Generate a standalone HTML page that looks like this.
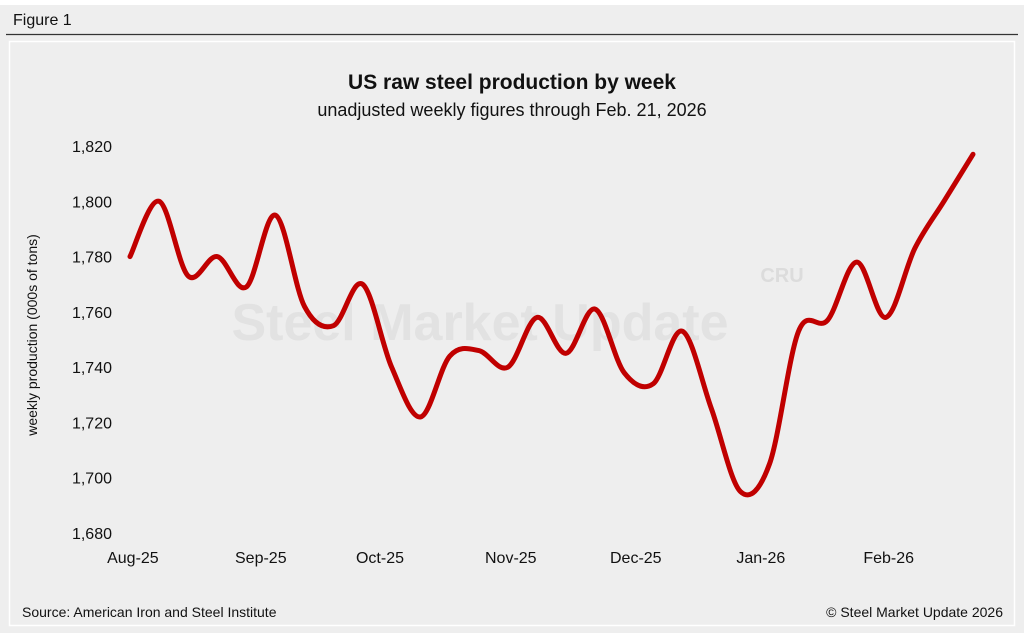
<!DOCTYPE html>
<html><head><meta charset="utf-8"><style>
body{margin:0;width:1024px;height:633px;background:#fff;font-family:"Liberation Sans",Arial,sans-serif;overflow:hidden}
#bg{position:absolute;left:0;top:5px;width:1024px;height:628px;background:#eeeeee}
</style></head><body>
<div id="bg"></div>
<svg width="1024" height="633" style="position:absolute;left:0;top:0">
<text x="13" y="25" font-size="16" fill="#111">Figure 1</text>
<line x1="6" y1="34.5" x2="1018" y2="34.5" stroke="#333" stroke-width="1.2"/>
<rect x="9.5" y="41.5" width="1005" height="584" fill="none" stroke="#fff" stroke-width="1.5"/>
<text x="512" y="89" text-anchor="middle" font-size="21" font-weight="bold" fill="#111">US raw steel production by week</text>
<text x="512" y="116" text-anchor="middle" font-size="18" fill="#111">unadjusted weekly figures through Feb. 21, 2026</text>
<text x="480" y="340" text-anchor="middle" font-size="52" font-weight="bold" fill="#e2e2e2">Steel Market Update</text>
<text x="782" y="282" text-anchor="middle" font-size="20" font-weight="bold" fill="#dcdcdc">CRU</text>
<text transform="translate(37,335) rotate(-90)" text-anchor="middle" font-size="14" fill="#111">weekly production (000s of tons)</text>
<g id="yt"></g><g id="xt"></g>
<path id="line" fill="none" stroke="#c00000" stroke-width="5" stroke-linecap="round"/>
<text x="22" y="617" font-size="14" fill="#111">Source: American Iron and Steel Institute</text>
<text x="1003" y="617" text-anchor="end" font-size="14" fill="#111">© Steel Market Update 2026</text>
</svg>
<script>
const values=[1780,1800,1773,1780,1769,1795,1762,1755,1770,1740,1722,1744,1746,1740,1758,1745,1761,1738,1734,1753,1725,1695,1705,1753,1757,1778,1758,1783,1800,1817];
const yTicks=[1680,1700,1720,1740,1760,1780,1800,1820];
const yTickLabels=["1,680","1,700","1,720","1,740","1,760","1,780","1,800","1,820"];
const xLabels=["Aug-25","Sep-25","Oct-25","Nov-25","Dec-25","Jan-26","Feb-26"];
const xLabelIdx=[0.1,4.5,8.6,13.1,17.4,21.7,26.1];
const ns="http://www.w3.org/2000/svg";
const y=v=>533-(v-1680)*(387/140);
const x=i=>130+i*(843/29);
const yt=document.getElementById('yt');
yTicks.forEach((t,k)=>{const e=document.createElementNS(ns,'text');


e.setAttribute('x',112);e.setAttribute('y',y(t)+6);e.setAttribute('text-anchor','end');e.setAttribute('font-size','16');e.setAttribute('fill','#111');e.textContent=yTickLabels[k];yt.appendChild(e);});
const xt=document.getElementById('xt');
xLabels.forEach((l,k)=>{const e=document.createElementNS(ns,'text');


e.setAttribute('x',x(xLabelIdx[k]));e.setAttribute('y',563);e.setAttribute('text-anchor','middle');e.setAttribute('font-size','16');e.setAttribute('fill','#111');e.textContent=l;xt.appendChild(e);});
const p=values.map((v,i)=>[x(i),y(v)]);
let d='M'+p[0][0]+','+p[0][1];
for(let i=0;i<p.length-1;i++){const p0=p[Math.max(0,i-1)],p1=p[i],p2=p[i+1],p3=p[Math.min(p.length-1,i+2)];
d+=` C${p1[0]+(p2[0]-p0[0])/6},${p1[1]+(p2[1]-p0[1])/6} ${p2[0]-(p3[0]-p1[0])/6},${p2[1]-(p3[1]-p1[1])/6} ${p2[0]},${p2[1]}`;}
document.getElementById('line').setAttribute('d',d);
</script>
</body></html>
